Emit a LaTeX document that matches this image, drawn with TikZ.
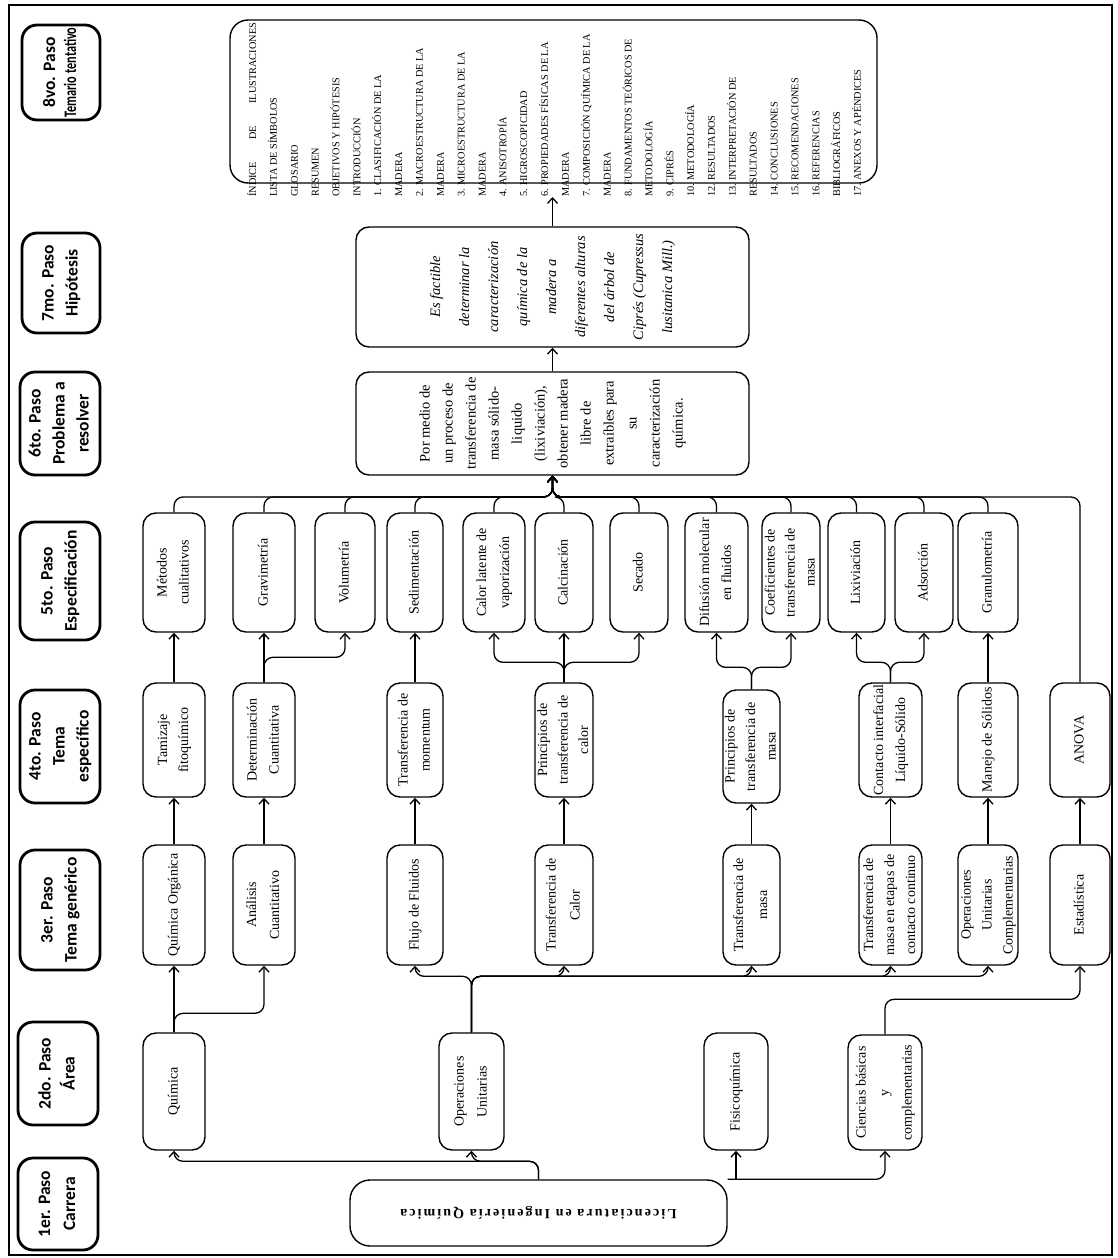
\documentclass[tikz,border=0pt]{standalone}
\usepackage{fontspec}
\usepackage{graphicx}
\setmainfont{Liberation Serif}
\newfontfamily\hdfont{Carlito}
\usetikzlibrary{arrows.meta}
\newcount\nlines
\newcommand{\mlabel}[4]{%
  \global\nlines=0\relax
  \foreach \myline in {#4}{\global\advance\nlines by 1\relax}%
  \foreach \myline [count=\i] in {#4}{\node[#3] at ([xshift={(\i-(\the\nlines+1)/2)*#2*1pt}]#1.center) {\myline};}}
\newcommand{\cbx}[8][]{%
  \node[cbox,minimum width={(#4-#3)*1pt},minimum height={(#6-#5)*1pt}] (#2) at ({(#3+#4)/2},{(#5+#6)/2}) {};
  \mlabel{#2}{#7}{lbl,#1}{#8}}
\newcommand{\hbx}[7]{%
  \node[hbox,minimum width={(#3-#2)*1pt},minimum height={(#5-#4)*1pt}] (#1) at ({(#2+#3)/2},{(#4+#5)/2}) {};
  \mlabel{#1}{#6}{hlbl}{#7}}
\tikzset{
  cbox/.style={draw,line width=1.4pt,rounded corners=13pt,inner sep=0pt},
  lbl/.style={rotate=90,inner sep=0pt,text height=10pt,text depth=3pt,font=\fontsize{14}{17}\selectfont},
  hbox/.style={draw,line width=2.8pt,rounded corners=15pt,inner sep=0pt},
  hlbl/.style={rotate=90,inner sep=0pt,text height=12.5pt,text depth=3.5pt,font=\hdfont\bfseries\fontsize{17.5}{20}\selectfont},
  arr/.style={line width=1.3pt,-{Straight Barb[length=5.5pt,width=10pt]}},
  rc/.style={rounded corners=9pt}
}
\begin{document}
\begin{tikzpicture}[x=1pt,y=-1pt]
\useasboundingbox (0,0) rectangle (1117,1258);
\draw[line width=2pt] (9,5) rectangle (1112,1255);
% headers
\hbx{h1}{18}{98}{1158}{1250}{25}{1er. Paso,Carrera}
\hbx{h2}{18}{98}{1022}{1125}{24}{2do. Paso,Área}
\hbx{h3}{20}{100}{850}{970}{24}{3er. Paso,Tema genérico}
\hbx{h4}{20}{100}{690}{803}{24}{4to. Paso,Tema,específico}
\hbx{h5}{20}{100}{522}{640}{24}{5to. Paso,Especificación}
\hbx{h6}{20}{100}{372}{475}{24}{6to. Paso,Problema a,resolver}
\hbx{h7}{22}{100}{233}{333}{24}{7mo. Paso,Hipótesis}
\hbx{h8}{22}{100}{25}{120}{21}{8vo. Paso,{\scalebox{0.7}[1]{Temario tentativo}}}
% carrera
\node[cbox,rounded corners=20pt,minimum width=377pt,minimum height=66pt] (lic) at (538.5,1213) {};
\node[rotate=180,inner sep=0pt,font=\bfseries\fontsize{14}{17}\selectfont\addfontfeature{LetterSpace=15}] (lict) at (lic.center) {Licenciatura en Ingeniería Química};
% area
\cbx{quim}{143}{205}{1033}{1150}{23}{Química}
\cbx{opu}{439}{504}{1033}{1150}{23}{Operaciones,Unitarias}
\cbx{fisq}{704}{768}{1033}{1150}{23}{Fisicoquímica}
\cbx{cien}{848}{922}{1035}{1150}{23}{Ciencias básicas,y,complementarias}
% tema generico
\cbx{qo}{143}{205}{845}{965}{23}{Química Orgánica}
\cbx{ac}{233}{295}{845}{965}{23}{Análisis,Cuantitativo}
\cbx{ff}{387}{443}{845}{965}{23}{Flujo de Fluidos}
\cbx{tc}{535}{593}{845}{965}{24}{Transferencia de,Calor}
\cbx{tm}{723}{780}{845}{965}{24}{Transferencia de,masa}
\cbx{tme}{859}{922}{845}{965}{21}{Transferencia de,masa en etapas de,contacto continuo}
\cbx{ouc}{958}{1018}{845}{965}{21}{Operaciones,Unitarias,Complementarias}
\cbx{est}{1050}{1110}{845}{965}{23}{Estadística}
% tema especifico
\cbx{tf}{143}{205}{683}{797}{21}{Tamizaje,fitoquímico}
\cbx{dc}{233}{295}{683}{797}{22}{Determinación,Cuantitativa}
\cbx{tmo}{387}{443}{683}{797}{22}{Transferencia de,momentum}
\cbx{ptc}{535}{593}{683}{797}{20.5}{Principios de,transferencia de,calor}
\cbx{ptm}{723}{780}{690}{803}{20.5}{Principios de,transferencia de,masa}
\cbx{ci}{859}{922}{683}{797}{22}{Contacto interfacial,Líquido-Sólido}
\cbx{ms}{958}{1018}{683}{797}{23}{Manejo de Sólidos}
\cbx{anova}{1050}{1110}{683}{797}{23}{ANOVA}
% especificacion
\cbx{mc}{143}{205}{513}{632}{22}{Métodos,cualitativos}
\cbx{gr}{233}{295}{513}{632}{23}{Gravimetría}
\cbx{vo}{315}{375}{513}{632}{23}{Volumetría}
\cbx{se}{387}{443}{513}{632}{23}{Sedimentación}
\cbx{cl}{463}{525}{513}{632}{23}{Calor latente de,vaporización}
\cbx{ca}{535}{593}{513}{632}{23}{Calcinación}
\cbx{sc}{610}{668}{513}{632}{23}{Secado}
\cbx{dm}{685}{748}{513}{632}{22}{Difusión molecular,en fluidos}
\cbx{co}{762}{820}{513}{632}{20}{Coeficientes de,transferencia de,masa}
\cbx{li}{828}{885}{513}{632}{23}{Lixiviación}
\cbx{ad}{895}{953}{513}{632}{23}{Adsorción}
\cbx{gm}{958}{1018}{513}{632}{23}{Granulometría}
% problema, hipotesis
\cbx[font=\fontsize{14.5}{17}\selectfont]{prob}{356}{749}{372}{475}{23}{Por medio de,un proceso de,transferencia de,masa sólido-,liquido,{(lixiviación),},obtener madera,libre de,extraíbles para,su,caracterización,química.}
\cbx[font=\fontsize{14.5}{17}\selectfont\itshape]{hip}{356}{749}{227}{347}{29}{Es factible,determinar la,caracterización,química de la,madera a,diferentes alturas,del árbol de,{Ciprés (Cupressus},{lusitanica Mill.)}}
% temario
\node[cbox,rounded corners=18pt,minimum width=647pt,minimum height=163pt] (tem) at (553.5,101.5) {};
\node[rotate=90,anchor=north west,inner sep=0pt,align=left,font=\fontsize{10.3}{20.86}\selectfont] (temtext) at (247,197)
 {\makebox[174pt][s]{ÍNDICE\hfill DE\hfill ILUSTRACIONES}\\
  LISTA DE SÍMBOLOS\\GLOSARIO\\RESUMEN\\OBJETIVOS Y HIPÓTESIS\\INTRODUCCIÓN\\
  1. CLASIFICACIÓN DE LA\\MADERA\\2. MACROESTRUCTURA DE LA\\MADERA\\
  3. MICROESTRUCTURA DE LA\\MADERA\\4. ANISOTROPÍA\\5. HIGROSCOPICIDAD\\
  6. PROPIEDADES FÍSICAS DE LA\\MADERA\\7. COMPOSICIÓN QUÍMICA DE LA\\MADERA\\
  8. FUNDAMENTOS TEÓRICOS DE\\METODOLOGÍA\\9. CIPRÉS\\10. METODOLOGÍA\\
  12. RESULTADOS\\13. INTERPRETACIÓN DE\\RESULTADOS\\14. CONCLUSIONES\\
  15. RECOMENDACIONES\\16. REFERENCIAS\\BIBLIOGRÁFICOS\\17. ANEXOS Y APÉNDICES};
% connectors carrera -> area
\draw[arr,rc] (lic.north) -- ++(0,-18) -| (quim.south);
\draw[arr,rc] (lic.north) -- ++(0,-18) -| (opu.south);
\draw[arr,rc] (lic.north east) -| (cien.south);
\draw[arr] (fisq.south |- lic.north) -- (fisq.south);
% area -> tema generico
\draw[arr] (quim.north) -- (qo.south);
\draw[arr,rc] (quim.north) -- ++(0,-19) -| (ac.south);
\foreach \n in {ff,tc,tm,tme,ouc} \draw[arr,rc] (opu.north) -- ++(0,-56) -| (\n.south);
\draw[arr,rc] (cien.north) -- ++(0,-35) -| (est.south);
% generico -> especifico
\draw[arr] (qo.north) -- (tf.south);
\draw[arr] (ac.north) -- (dc.south);
\draw[arr] (ff.north) -- (tmo.south);
\draw[arr] (tc.north) -- (ptc.south);
\draw[arr] (tm.north) -- (ptm.south);
\draw[arr] (tme.north) -- (ci.south);
\draw[arr] (ouc.north) -- (ms.south);
\draw[arr] (est.north) -- (anova.south);
% especifico -> especificacion
\draw[arr] (tf.north) -- (mc.south);
\draw[arr] (dc.north) -- (gr.south);
\draw[arr,rc] (dc.north) -- ++(0,-25) -| (vo.south);
\draw[arr] (tmo.north) -- (se.south);
\draw[arr] (ptc.north) -- (ca.south);
\draw[arr,rc] (ptc.north) -- ++(0,-20) -| (cl.south);
\draw[arr,rc] (ptc.north) -- ++(0,-20) -| (sc.south);
\draw[arr,rc] (ptm.north) -- ++(0,-22) -| (dm.south);
\draw[arr,rc] (ptm.north) -- ++(0,-22) -| (co.south);
\draw[arr,rc] (ci.north) -- ++(0,-20) -| (li.south);
\draw[arr,rc] (ci.north) -- ++(0,-20) -| (ad.south);
\draw[arr] (ms.north) -- (gm.south);
% especificacion -> problema
\coordinate (J) at (552.5,497);
\foreach \n in {mc,gr,vo,se,cl,ca,sc,dm,co,li,ad,gm,anova} \draw[arr,rc] (\n.north) |- (J) -- (prob.south);
% problema -> hipotesis -> temario
\draw[arr] (prob.north) -- (hip.south);
\draw[arr] (hip.north) -- (hip.north |- temtext.west);
\end{tikzpicture}
\end{document}
